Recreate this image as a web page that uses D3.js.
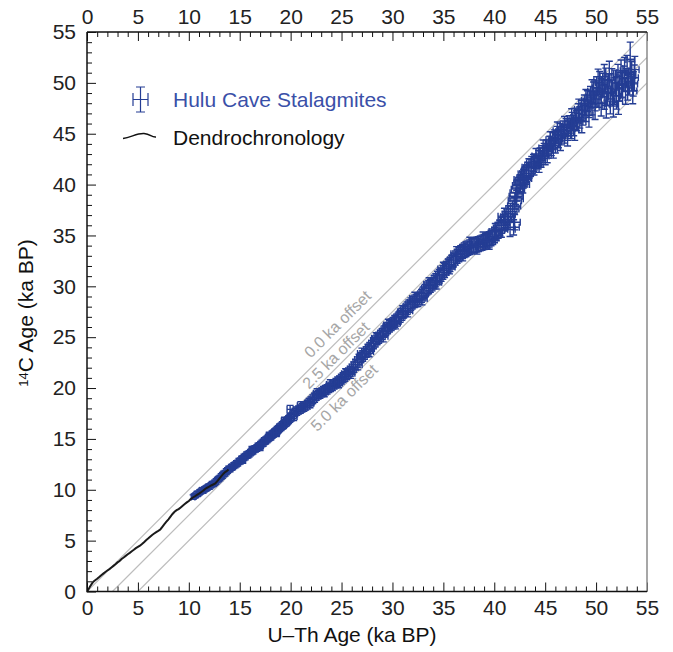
<!DOCTYPE html>
<html>
<head>
<meta charset="utf-8">
<script src="https://cdn.jsdelivr.net/npm/d3@7"></script>
<style>
  body { margin: 0; background: #fff; }
  svg { display: block; font-family: "Liberation Sans", Arial, Helvetica, sans-serif; }
</style>
</head>
<body>
<svg id="chart" width="673" height="652"></svg>
<script>
// axis ticks
const majorTicks = [0, 5, 10, 15, 20, 25, 30, 35, 40, 45, 50, 55];
const offsets = [0, 2.5, 5.0];
const offsetLabels = ['0.0 ka offset', '2.5 ka offset', '5.0 ka offset'];

// dendrochronology (U-Th/cal age ka, 14C age ka)
const dendro = [
  [0, 0], [0.1, 0.15], [0.2, 0.32], [0.3, 0.5], [0.45, 0.72], [0.6, 0.95], [0.8, 1.1], [1.0, 1.25],
  [1.2, 1.42], [1.4, 1.6], [1.6, 1.76], [1.8, 1.92], [2.0, 2.06], [2.2, 2.2], [2.4, 2.36], [2.6, 2.52],
  [2.8, 2.68], [3.0, 2.86], [3.2, 3.0], [3.4, 3.2], [3.6, 3.34], [3.8, 3.5], [4.0, 3.66], [4.2, 3.8],
  [4.4, 3.96], [4.6, 4.1], [4.8, 4.26], [5.0, 4.38], [5.2, 4.5], [5.4, 4.66], [5.6, 4.84], [5.8, 5.04],
  [6.0, 5.2], [6.2, 5.38], [6.4, 5.56], [6.6, 5.7], [6.8, 5.84], [7.0, 5.96], [7.2, 6.1], [7.4, 6.36],
  [7.6, 6.62], [7.8, 6.86], [8.0, 7.1], [8.2, 7.36], [8.4, 7.62], [8.6, 7.84], [8.8, 8.0], [9.0, 8.1],
  [9.2, 8.26], [9.4, 8.44], [9.6, 8.6], [9.8, 8.76], [10.0, 8.9], [10.2, 9.1], [10.4, 9.24], [10.6, 9.36],
  [10.8, 9.5], [11.0, 9.62], [11.2, 9.76], [11.4, 9.9], [11.6, 10.08], [11.8, 10.2], [12.0, 10.3],
  [12.2, 10.42], [12.4, 10.52], [12.6, 10.62], [12.8, 10.86], [13.0, 11.1], [13.2, 11.34], [13.4, 11.58],
  [13.6, 11.76], [13.8, 11.9], [13.9, 12.0]
];

// Hulu Cave stalagmites [U-Th age, 14C age, U-Th err, 14C err] (ka)
const hulu = [
  [10.42, 9.28, .18, .22], [10.55, 9.40, .18, .20], [10.68, 9.45, .19, .22], [10.80, 9.60, .18, .24],
  [10.93, 9.62, .19, .22], [11.05, 9.75, .19, .24], [11.18, 9.82, .19, .22], [11.30, 9.95, .20, .25],
  [11.42, 9.92, .19, .24], [11.55, 10.05, .20, .25], [11.68, 10.12, .20, .24], [11.80, 10.20, .20, .25],
  [11.92, 10.30, .20, .25], [12.05, 10.32, .20, .26], [12.18, 10.45, .21, .25], [12.30, 10.55, .20, .26],
  [12.42, 10.58, .21, .25], [12.55, 10.70, .21, .26], [12.68, 10.82, .21, .26], [12.80, 10.95, .22, .27],
  [12.92, 11.05, .21, .26], [13.05, 11.15, .22, .27], [13.18, 11.30, .22, .27], [13.30, 11.42, .22, .28],
  [13.42, 11.55, .22, .27], [13.55, 11.62, .23, .28], [13.68, 11.78, .22, .28], [13.80, 11.90, .23, .28],
  [13.92, 12.02, .23, .29], [14.05, 12.05, .23, .28], [14.18, 12.20, .23, .29], [14.30, 12.25, .24, .28],
  [14.42, 12.38, .23, .29], [14.55, 12.45, .24, .29], [14.68, 12.55, .24, .30], [14.80, 12.62, .24, .29],
  [14.92, 12.78, .25, .30], [15.05, 12.82, .24, .30], [15.18, 12.98, .25, .31], [15.30, 13.05, .25, .30],
  [15.42, 13.18, .25, .31], [15.55, 13.25, .26, .31], [15.68, 13.40, .25, .31], [15.80, 13.45, .26, .32],
  [15.92, 13.52, .26, .31], [16.05, 13.65, .26, .32], [16.18, 13.75, .27, .32], [16.30, 13.82, .26, .32],
  [16.42, 13.98, .27, .33], [16.55, 14.02, .27, .32], [16.68, 14.10, .27, .33], [16.80, 14.25, .28, .33],
  [16.92, 14.30, .27, .33], [17.05, 14.42, .28, .34], [17.18, 14.55, .28, .33], [17.30, 14.62, .28, .34],
  [17.42, 14.78, .29, .34], [17.55, 14.85, .28, .35], [17.68, 14.95, .29, .34], [17.80, 15.10, .29, .35],
  [17.92, 15.18, .29, .35], [18.05, 15.25, .30, .35], [18.18, 15.42, .29, .36], [18.30, 15.50, .30, .35],
  [18.42, 15.62, .30, .36], [18.55, 15.72, .30, .36], [18.68, 15.85, .31, .37], [18.80, 15.95, .30, .36],
  [18.92, 16.10, .31, .37], [19.05, 16.18, .31, .37], [19.18, 16.32, .31, .38], [19.30, 16.40, .32, .37],
  [19.42, 16.55, .31, .38], [19.55, 16.62, .32, .38], [19.68, 16.78, .32, .39], [19.80, 16.90, .32, .38],
  [19.92, 17.02, .33, .39], [19.95, 17.90, .30, .40], [20.05, 17.15, .33, .39], [20.25, 17.38, .33, .40],
  [20.42, 17.60, .34, .40], [20.60, 17.72, .33, .41], [20.78, 17.85, .34, .40], [20.95, 17.92, .34, .41],
  [21.12, 18.05, .35, .42], [21.30, 18.12, .34, .41], [21.48, 18.25, .35, .42], [21.65, 18.35, .35, .42],
  [21.82, 18.55, .36, .43], [22.00, 18.70, .35, .42], [22.18, 18.90, .36, .43], [22.35, 19.05, .36, .44],
  [22.52, 19.22, .37, .43], [22.70, 19.35, .36, .44], [22.88, 19.45, .37, .45], [23.05, 19.58, .37, .44],
  [23.22, 19.70, .38, .45], [23.40, 19.80, .37, .45], [23.58, 19.88, .38, .46], [23.75, 20.00, .38, .45],
  [23.92, 20.12, .39, .46], [24.10, 20.22, .38, .47], [24.28, 20.35, .39, .46], [24.45, 20.48, .39, .47],
  [24.62, 20.60, .40, .48], [24.80, 20.72, .39, .47], [24.98, 20.88, .40, .48], [25.15, 21.02, .40, .49],
  [25.32, 21.15, .41, .48], [25.50, 21.32, .40, .49], [25.68, 21.48, .41, .50], [25.85, 21.65, .41, .49],
  [26.02, 21.85, .42, .50], [26.20, 22.05, .41, .51], [26.38, 22.30, .42, .50], [26.55, 22.55, .42, .51],
  [26.72, 22.80, .43, .52], [26.90, 23.00, .42, .51], [27.08, 23.15, .43, .52], [27.25, 23.35, .43, .53],
  [27.42, 23.55, .44, .52], [27.60, 23.78, .43, .53], [27.78, 23.95, .44, .54], [27.95, 24.15, .44, .53],
  [28.12, 24.40, .45, .54], [28.30, 24.58, .44, .55], [28.48, 24.80, .45, .54], [28.65, 24.95, .45, .55],
  [28.82, 25.12, .46, .56], [29.00, 25.32, .45, .55], [29.18, 25.55, .46, .56], [29.35, 25.72, .46, .57],
  [29.52, 25.90, .47, .56], [29.70, 26.08, .46, .57], [29.88, 26.22, .47, .58], [30.05, 26.38, .47, .57],
  [30.22, 26.55, .48, .58], [30.40, 26.68, .47, .59], [30.58, 26.88, .48, .58], [30.75, 27.05, .48, .59],
  [30.92, 27.25, .49, .60], [31.10, 27.48, .48, .59], [31.28, 27.65, .49, .60], [31.45, 27.85, .49, .61],
  [31.62, 28.05, .50, .60], [31.80, 28.25, .49, .61], [31.98, 28.40, .50, .62], [32.15, 28.52, .50, .61],
  [32.32, 28.60, .51, .62], [32.50, 28.65, .50, .63], [32.68, 28.80, .51, .62], [32.85, 29.05, .51, .63],
  [33.02, 29.30, .52, .64], [33.20, 29.55, .51, .63], [33.38, 29.78, .52, .64], [33.55, 29.92, .52, .65],
  [33.72, 30.05, .53, .64], [33.90, 30.20, .52, .65], [34.08, 30.42, .53, .66], [34.25, 30.60, .53, .65],
  [34.42, 30.82, .54, .66], [34.60, 31.00, .53, .67], [34.78, 31.15, .54, .66], [34.95, 31.35, .54, .67],
  [35.12, 31.55, .55, .68], [35.30, 31.78, .54, .67], [35.48, 32.00, .55, .68], [35.65, 32.15, .55, .69],
  [35.82, 32.38, .56, .68], [36.00, 32.60, .55, .69], [36.18, 32.78, .56, .70], [36.35, 32.95, .56, .69],
  [36.52, 33.12, .57, .70], [36.70, 33.28, .56, .71], [36.88, 33.42, .57, .70], [37.05, 33.55, .57, .71],
  [37.22, 33.65, .58, .72], [37.40, 33.75, .57, .71], [37.58, 33.85, .58, .72], [37.75, 33.92, .58, .73],
  [37.92, 34.00, .59, .72], [38.10, 34.05, .58, .73], [38.28, 34.12, .59, .74], [38.45, 34.15, .59, .73],
  [38.62, 34.22, .60, .74], [38.80, 34.28, .59, .75], [38.98, 34.35, .60, .74], [39.15, 34.42, .60, .75],
  [39.32, 34.52, .61, .76], [39.50, 34.62, .60, .75], [39.68, 34.75, .61, .76], [39.85, 34.88, .61, .77],
  [40.02, 35.05, .62, .76], [40.20, 35.25, .61, .77], [40.38, 35.50, .62, .78], [40.55, 35.72, .62, .77],
  [40.72, 36.00, .63, .78], [40.90, 36.25, .62, .79], [41.08, 36.55, .63, .78], [41.25, 36.85, .63, .79],
  [41.42, 37.12, .64, .80], [41.55, 35.60, .50, .70], [41.60, 37.35, .63, .79], [41.78, 37.60, .64, .80],
  [41.95, 37.90, .64, .81], [42.02, 38.40, .65, .80], [42.10, 38.85, .64, .81], [42.20, 39.20, .65, .82],
  [42.32, 39.55, .65, .81], [42.45, 39.90, .66, .82], [42.58, 40.15, .65, .83], [42.72, 40.42, .66, .82],
  [42.88, 40.68, .66, .83], [43.02, 40.90, .67, .84], [43.18, 41.10, .66, .83], [43.35, 41.35, .67, .84],
  [43.52, 41.65, .67, .85], [43.68, 41.92, .68, .84], [43.85, 42.12, .67, .85],
  [44.00, 42.30, .40, .70], [44.20, 42.20, .38, .65], [44.35, 42.60, .42, .75], [44.50, 42.90, .40, .70],
  [44.60, 42.50, .38, .80], [44.75, 43.10, .42, .72], [44.90, 43.30, .40, .75], [45.00, 42.80, .38, .85],
  [45.15, 43.60, .42, .78], [45.30, 43.40, .40, .80], [45.45, 44.00, .42, .75], [45.60, 43.70, .40, .85],
  [45.75, 44.30, .42, .80], [45.90, 44.60, .40, .78], [46.00, 44.00, .38, .90], [46.15, 44.90, .42, .82],
  [46.30, 44.50, .40, .88], [46.45, 45.20, .42, .80], [46.60, 44.80, .40, .90], [46.75, 45.40, .42, .85],
  [46.90, 45.00, .40, .92], [47.05, 45.60, .42, .88], [47.20, 45.30, .40, .95], [47.35, 45.90, .42, .88],
  [47.50, 45.50, .40, .98], [47.65, 46.20, .42, .90], [47.80, 45.80, .40, 1.00], [47.95, 46.60, .42, .92],
  [48.10, 46.30, .40, 1.00], [48.25, 47.00, .42, .95], [48.40, 46.60, .40, 1.05], [48.55, 47.30, .42, .98],
  [48.70, 46.90, .40, 1.05], [48.85, 47.80, .42, 1.00], [49.00, 47.30, .40, 1.10], [49.15, 48.20, .42, 1.02],
  [49.30, 47.70, .40, 1.10], [49.45, 48.60, .42, 1.05], [49.60, 48.00, .40, 1.15], [49.75, 49.00, .42, 1.08],
  [49.90, 48.40, .40, 1.15], [50.05, 49.50, .42, 1.10], [50.20, 48.80, .40, 1.20], [50.35, 50.00, .42, 1.12],
  [50.50, 49.20, .40, 1.20], [50.65, 49.80, .42, 1.15], [50.80, 48.60, .40, 1.20], [50.95, 50.30, .42, 1.15],
  [51.10, 49.00, .40, 1.25], [51.25, 49.60, .42, 1.18], [51.40, 48.20, .40, 1.25], [51.55, 50.20, .42, 1.20],
  [51.70, 47.90, .40, 1.25], [51.85, 49.30, .42, 1.20], [52.00, 48.70, .40, 1.28], [52.15, 50.60, .42, 1.22],
  [52.30, 49.50, .40, 1.28], [52.45, 51.00, .42, 1.25], [52.60, 49.90, .40, 1.30], [52.75, 50.40, .42, 1.25],
  [52.90, 49.20, .40, 1.30], [53.05, 51.40, .42, 1.30], [53.20, 50.10, .40, 1.30], [53.35, 52.30, .42, 1.70],
  [53.50, 50.80, .40, 1.30], [53.65, 49.90, .42, 1.20], [53.75, 50.50, .40, 1.25]
];

// second stalagmite, same layout
const hulu2 = [
  [15.30, 12.90, .25, .30], [16.20, 13.95, .26, .32], [17.00, 14.20, .28, .34], [17.90, 15.30, .29, .35],
  [18.60, 15.60, .30, .36], [19.40, 16.75, .31, .38], [20.30, 17.20, .33, .40], [21.00, 18.25, .34, .41],
  [21.90, 18.50, .36, .43], [22.60, 19.50, .36, .44], [23.30, 19.60, .37, .45], [23.90, 20.35, .38, .46],
  [24.70, 20.50, .39, .47], [25.40, 21.40, .40, .49], [25.90, 21.45, .41, .50], [26.60, 22.30, .42, .51],
  [27.00, 23.40, .43, .52], [27.70, 23.60, .44, .53], [28.40, 24.90, .45, .55], [29.10, 25.10, .46, .56],
  [29.60, 26.20, .46, .57], [30.30, 26.40, .47, .58], [31.00, 27.50, .48, .59], [31.50, 27.60, .49, .60],
  [32.20, 28.80, .50, .61], [32.90, 28.80, .51, .62], [33.60, 30.20, .52, .64], [34.30, 30.40, .53, .66],
  [35.00, 31.70, .54, .67], [35.60, 31.90, .55, .68], [36.30, 33.20, .56, .70], [36.90, 33.20, .57, .70],
  [37.60, 34.10, .58, .72], [38.30, 33.90, .59, .74], [38.90, 34.60, .60, .74], [39.50, 34.40, .60, .75],
  [40.10, 35.40, .61, .77], [40.70, 35.60, .62, .78], [41.30, 36.40, .63, .79], [41.00, 36.90, .63, .78],
  [41.90, 35.80, .55, .75], [42.00, 36.30, .55, .75], [42.20, 38.60, .65, .81], [42.60, 40.50, .66, .82],
  [42.80, 40.00, .66, .83], [43.00, 40.60, .67, .84], [43.40, 41.70, .67, .84], [43.90, 41.80, .68, .85],
  [44.10, 42.80, .40, .75], [44.40, 42.00, .40, .80], [44.80, 43.60, .42, .78], [45.20, 43.00, .40, .85],
  [45.50, 44.40, .42, .80], [45.80, 43.50, .40, .90], [46.20, 45.30, .42, .85], [46.50, 44.30, .40, .95],
  [46.90, 45.80, .42, .90], [47.20, 44.80, .40, 1.00], [47.60, 46.50, .42, .95], [47.90, 45.40, .40, 1.05],
  [48.30, 47.40, .42, 1.00], [48.60, 46.20, .40, 1.10], [49.00, 48.30, .42, 1.05], [49.30, 46.80, .40, 1.15],
  [49.60, 49.20, .42, 1.10], [49.90, 47.60, .40, 1.20], [50.20, 50.20, .42, 1.15], [50.50, 48.00, .40, 1.25],
  [50.80, 50.60, .42, 1.20], [51.00, 47.80, .40, 1.25], [51.30, 50.90, .42, 1.22], [51.60, 49.00, .40, 1.28],
  [51.90, 50.00, .42, 1.25], [52.20, 48.20, .40, 1.30], [52.50, 49.80, .42, 1.28], [52.80, 51.20, .42, 1.30],
  [53.10, 49.60, .40, 1.30], [53.40, 51.00, .42, 1.30], [53.60, 49.20, .40, 1.25], [53.80, 51.30, .42, 1.30]
];

const svg = d3.select('#chart');
const x = d3.scaleLinear().domain([0, 55]).range([87, 647]);
const y = d3.scaleLinear().domain([0, 55]).range([591.5, 32]);
const minorTicks = d3.range(0, 56).filter(d => d % 5 !== 0);
const blue = '#243d94';

svg.append('defs').append('clipPath').attr('id', 'plot')
  .append('rect').attr('x', x(0)).attr('y', y(55)).attr('width', x(55) - x(0)).attr('height', y(0) - y(55));

// offset lines
const plot = svg.append('g').attr('clip-path', 'url(#plot)');
plot.selectAll('line.offset')
  .data(offsets)
  .enter()
  .append('line')
  .attr('x1', d => x(d)).attr('y1', y(0))
  .attr('x2', x(55)).attr('y2', d => y(55 - d))
  .attr('stroke', '#bdbdbd')
  .attr('stroke-width', 1.2);

// labels sit along the lines, rotated with them
const labelPos = [[24.6, 26.3], [24.44, 23.23], [25.25, 19.06]];
const angle = -Math.atan((y(0) - y(1)) / (x(1) - x(0))) * 180 / Math.PI;
svg.selectAll('text.offset')
  .data(offsetLabels)
  .enter()
  .append('text')
  .attr('transform', (d, i) => `translate(${x(labelPos[i][0])},${y(labelPos[i][1])}) rotate(${angle})`)
  .attr('text-anchor', 'middle')
  .attr('dy', '0.35em')
  .attr('fill', '#a6a6a6')
  .style('font-size', '16px')
  .text(d => d);

// error bars
const cap = 3.5;
const pts = plot.append('g')
  .attr('stroke', blue)
  .attr('stroke-width', 1.4)
  .attr('fill', 'none');

pts.selectAll('path')
  .data(hulu.concat(hulu2))
  .enter()
  .append('path')
  .attr('d', d => {
    let cx = x(d[0]), cy = y(d[1]);
    let x0 = x(d[0] - d[2]), x1 = x(d[0] + d[2]);
    let y0 = y(d[1] - d[3]), y1 = y(d[1] + d[3]);
    return `M${x0},${cy}H${x1}` +
      `M${x0},${cy - cap}V${cy + cap}M${x1},${cy - cap}V${cy + cap}` +
      `M${cx},${y0}V${y1}` +
      `M${cx - cap},${y0}H${cx + cap}M${cx - cap},${y1}H${cx + cap}`;
  });

// dendro curve on top
plot.append('path')
  .datum(dendro)
  .attr('d', d3.line().x(d => x(d[0])).y(d => y(d[1])))
  .attr('fill', 'none')
  .attr('stroke', '#1a1a1a')
  .attr('stroke-width', 2);

// axes
function drawAxis(axis, transform, size, labels) {
  let g = svg.append('g').attr('transform', transform)
    .call(axis.tickSize(-size).tickSizeOuter(0));
  if (!labels) g.selectAll('text').remove();
  g.selectAll('.tick line').attr('stroke', '#111').attr('stroke-width', 1);
  g.select('.domain').remove();
  g.selectAll('text').style('font-size', '21px').attr('fill', '#222')
    .style('font-family', '"Liberation Sans", Arial, Helvetica, sans-serif');
  return g;
}

drawAxis(d3.axisBottom(x).tickValues(majorTicks).tickPadding(9), `translate(0,${y(0)})`, 9, true);
drawAxis(d3.axisBottom(x).tickValues(minorTicks), `translate(0,${y(0)})`, 5, false);
drawAxis(d3.axisTop(x).tickValues(majorTicks).tickPadding(8), `translate(0,${y(55)})`, 9, true);
drawAxis(d3.axisTop(x).tickValues(minorTicks), `translate(0,${y(55)})`, 5, false);
drawAxis(d3.axisLeft(y).tickValues(majorTicks).tickPadding(11), `translate(${x(0)},0)`, 9, true);
drawAxis(d3.axisLeft(y).tickValues(minorTicks), `translate(${x(0)},0)`, 5, false);

// frame
svg.append('line').attr('x1', x(55)).attr('x2', x(55)).attr('y1', y(55)).attr('y2', y(0))
  .attr('stroke', '#8a8a8a').attr('stroke-width', 1.5);
svg.append('path')
  .attr('d', `M${x(0)},${y(55)}V${y(0)}H${x(55)}M${x(0)},${y(55)}H${x(55)}`)
  .attr('fill', 'none').attr('stroke', '#111').attr('stroke-width', 1.5);

// axis titles
svg.append('text')
  .attr('x', 352).attr('y', 642)
  .attr('text-anchor', 'middle')
  .style('font-size', '21px').attr('fill', '#111')
  .text('U–Th Age (ka BP)');

let yt = svg.append('text')
  .attr('transform', 'translate(33,313) rotate(-90)')
  .attr('text-anchor', 'middle')
  .style('font-size', '21px').attr('fill', '#111');
yt.append('tspan').attr('baseline-shift', '35%').style('font-size', '13px').text('14');
yt.append('tspan').text('C Age (ka BP)');

// legend
let lg = svg.append('g');
lg.append('path')
  .attr('d', 'M140.5,87V112M136,87H145M136,112H145M133,99.5H148M133,93V106M148,93V106')
  .attr('stroke', blue).attr('stroke-width', 1.2).attr('fill', 'none');
lg.append('text').attr('x', 173).attr('y', 107)
  .style('font-size', '21px').attr('fill', '#3a50a8')
  .text('Hulu Cave Stalagmites');
lg.append('path')
  .attr('d', 'M123,138.5C131,137.5 137,133 144,133.5S151,137.5 156,137')
  .attr('stroke', '#111').attr('stroke-width', 1.5).attr('fill', 'none');
lg.append('text').attr('x', 173).attr('y', 145)
  .style('font-size', '21px').attr('fill', '#111')
  .text('Dendrochronology');
</script>
</body>
</html>
